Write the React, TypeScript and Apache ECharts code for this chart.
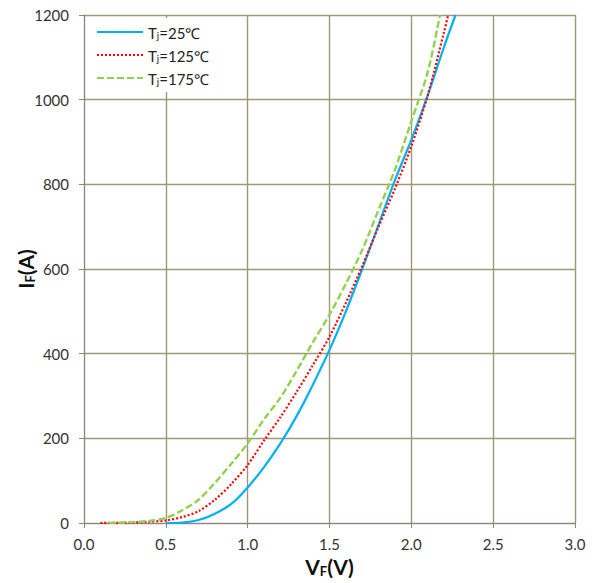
import React, { useEffect, useRef } from "react";
import * as echarts from "echarts";

const vf25 = [0.5, 0.6, 0.7, 0.8, 0.9, 1.0, 1.1, 1.2, 1.3, 1.4, 1.5, 1.6, 1.7, 1.8, 1.9, 2.0, 2.1, 2.2, 2.27];
const if25 = [0, 1, 7, 22, 45, 84, 132, 188, 253, 328, 409, 500, 600, 705, 810, 905, 1010, 1125, 1200];

const vf125 = [0.1, 0.2, 0.3, 0.4, 0.5, 0.6, 0.7, 0.8, 0.9, 1.0, 1.1, 1.2, 1.3, 1.4, 1.5, 1.6, 1.7, 1.8, 1.9, 2.0, 2.1, 2.2, 2.225];
const if125 = [0, 0.5, 1, 3, 6, 14, 28, 55, 92, 137, 195, 250, 310, 374, 440, 520, 607, 700, 790, 890, 1010, 1160, 1200];

const vf175 = [0.15, 0.2, 0.3, 0.4, 0.5, 0.6, 0.7, 0.8, 0.9, 1.0, 1.1, 1.2, 1.3, 1.4, 1.5, 1.6, 1.7, 1.8, 1.9, 2.0, 2.1, 2.175];
const if175 = [0, 0.5, 2, 5, 12, 30, 55, 95, 140, 188, 245, 296, 360, 428, 492, 565, 645, 740, 835, 949, 1065, 1200];

const seriesNames = ["25℃", "125℃", "175℃"];
const xTicks = { min: 0, max: 3, interval: 0.5 };
const yTicks = { min: 0, max: 1200, interval: 200 };

const zip = (xs: number[], ys: number[]) => xs.map((x, i) => [x, ys[i]]);

const FONT = "Lato, 'Open Sans', sans-serif";

export default function App() {
  const ref = useRef<HTMLDivElement>(null);
  useEffect(() => {
    if (!ref.current) return;
    const chart = echarts.init(ref.current, null, { renderer: "svg" });
    const gridColor = "#9e9878";
    const axisColor = "#868686";
    const nameRich = {
      b: { fontSize: 21, fontWeight: "bold", color: "#111", fontFamily: FONT, lineHeight: 25, verticalAlign: "bottom" },
      s: { fontSize: 13, fontWeight: "bold", color: "#111", fontFamily: FONT, lineHeight: 13, verticalAlign: "bottom" },
    };
    chart.setOption({
      animation: false,
      backgroundColor: "#ffffff",
      textStyle: { fontFamily: FONT },
      grid: { left: 84, right: 20, top: 15, bottom: 60, containLabel: false, outerBoundsMode: "none" },
      legend: {
        orient: "vertical",
        left: 88,
        top: 18,
        padding: [7, 8, 6, 8],
        backgroundColor: "#ffffff",
        itemWidth: 46,
        itemHeight: 14,
        itemGap: 8,
        itemStyle: { opacity: 0, borderWidth: 0 },
        data: seriesNames.map((n) => n),
        formatter: (name: string) => `{a|T}{s|j}{a|=${name}}`,
        textStyle: {
          rich: {
            a: { fontSize: 15, color: "#222", fontFamily: FONT, lineHeight: 16, verticalAlign: "bottom" },
            s: { fontSize: 10, color: "#222", fontFamily: FONT, lineHeight: 10, verticalAlign: "bottom" },
          },
        },
      },
      xAxis: {
        type: "value",
        ...xTicks,
        name: "{b|V}{s|F}{b|(V)}",
        nameLocation: "middle",
        nameGap: 29,
        nameMoveOverlap: false,
        nameTextStyle: { rich: nameRich },
        axisLine: { show: true, onZero: false, lineStyle: { color: axisColor, width: 1 } },
        axisTick: { show: true, length: 5, lineStyle: { color: axisColor } },
        axisLabel: {
          formatter: (v: number) => v.toFixed(1),
          fontSize: 15,
          color: "#333",
          margin: 13,
          fontFamily: FONT,
        },
        splitLine: { show: true, lineStyle: { color: gridColor, width: 1.4 } },
      },
      yAxis: {
        type: "value",
        ...yTicks,
        name: "{b|I}{s|F}{b|(A)}",
        nameLocation: "middle",
        nameRotate: 90,
        nameGap: 48,
        nameMoveOverlap: false,
        nameTextStyle: { rich: nameRich },
        axisLine: { show: true, onZero: false, lineStyle: { color: axisColor, width: 1 } },
        axisTick: { show: true, length: 5, lineStyle: { color: axisColor } },
        axisLabel: {
          formatter: (v: number) => String(v),
          fontSize: 15,
          color: "#333",
          margin: 15,
          fontFamily: FONT,
        },
        splitLine: { show: true, lineStyle: { color: gridColor, width: 1.4 } },
      },
      series: [
        {
          name: seriesNames[0],
          type: "line",
          data: zip(vf25, if25),
          symbol: "none",
          smooth: 0.3,
          z: 3,
          lineStyle: { color: "#00b0f0", width: 2.2, type: "solid" },
          itemStyle: { color: "#00b0f0" },
        },
        {
          name: seriesNames[1],
          type: "line",
          data: zip(vf125, if125),
          symbol: "none",
          smooth: 0.3,
          z: 4,
          lineStyle: { color: "#ff0000", width: 2.2, type: [2, 2] },
          itemStyle: { color: "#ff0000" },
        },
        {
          name: seriesNames[2],
          type: "line",
          data: zip(vf175, if175),
          symbol: "none",
          smooth: 0.3,
          z: 5,
          lineStyle: { color: "#92d050", width: 2.4, type: [7, 3] },
          itemStyle: { color: "#92d050" },
        },
      ],
    });
    return () => chart.dispose();
  }, []);
  return (
    <div
      ref={ref}
      style={{ position: "absolute", left: 0, top: 0, width: 595, height: 583 }}
    />
  );
}
